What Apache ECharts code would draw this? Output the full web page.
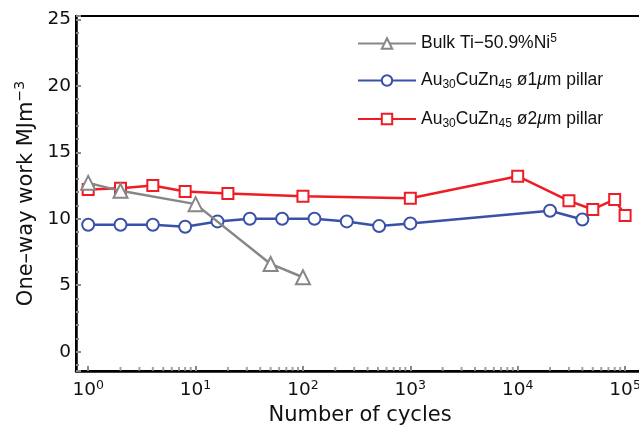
<!DOCTYPE html>
<html>
<head>
<meta charset="utf-8">
<script src="https://cdn.jsdelivr.net/npm/echarts@6/dist/echarts.min.js"></script>
<style>
  html, body { margin: 0; padding: 0; background: #fff; }
  #chart { width: 639px; height: 427px; }
</style>
</head>
<body>
<div id="chart"></div>
<script>
// Bulk Ti-50.9%Ni (triangles)
const bulkCycles = [1, 2, 10, 50, 100]
const bulkWork = [12.7, 12.1, 11.1, 6.6, 5.6]

// Au30CuZn45 1um pillar (circles)
const pillar1Cycles = [1, 2, 4, 8, 16, 32, 64, 128, 256, 512, 1000, 20000, 40000]
const pillar1Work = [9.55, 9.55, 9.55, 9.4, 9.8, 10.0, 10.0, 10.0, 9.8, 9.45, 9.65, 10.6, 9.95]

// Au30CuZn45 2um pillar (squares)
const pillar2Cycles = [1, 2, 4, 8, 20, 100, 1000, 10000, 30000, 50000, 80000, 100000]
const pillar2Work = [12.2, 12.3, 12.5, 12.05, 11.9, 11.7, 11.55, 13.2, 11.35, 10.7, 11.45, 10.25]

// minor ticks on the log axis (2..9 in each decade)
const decades = [1, 10, 100, 1000, 10000]
const minorSteps = [2, 3, 4, 5, 6, 7, 8, 9]

const xMin = 0.77
const xMax = 150000
const yMin = -1.45
const yMax = 25.25

const FONT = 'Liberation Sans'
const AXIS_FONT = 'DejaVu Sans'

function pairs(xs, ys) {
  return xs.map((x, i) => [x, ys[i]])
}

const minorTicks = []
decades.forEach(d => minorSteps.forEach(s => minorTicks.push([d * s, yMin])))

const chart = echarts.init(document.getElementById('chart'))

const option = {
  animation: false,
  textStyle: { fontFamily: FONT },
  grid: {
    left: 76,
    top: 16,
    bottom: 56,
    right: -5,
    outerBoundsMode: 'none',
    containLabel: false,
    show: true,
    borderColor: '#000',
    borderWidth: 2,
  },
  legend: {
    orient: 'vertical',
    left: 352,
    top: 28,
    itemGap: 19,
    itemWidth: 58,
    itemHeight: 13,
    data: ['bulk', 'p1', 'p2'],
    formatter: name => {
      if (name === 'bulk') return '{t|Bulk Ti−50.9%Ni}{sup|5}'
      if (name === 'p1') return '{t|Au}{sub|30}{t|CuZn}{sub|45}{t| ø1}{it|μ}{t|m pillar}'
      return '{t|Au}{sub|30}{t|CuZn}{sub|45}{t| ø2}{it|μ}{t|m pillar}'
    },
    textStyle: {
      color: '#111',
      rich: {
        t: { fontSize: 17.5, fontFamily: FONT, color: '#111' },
        it: { fontSize: 17.5, fontFamily: FONT, fontStyle: 'italic', color: '#111' },
        sup: { fontSize: 12, fontFamily: FONT, color: '#111', padding: [0, 0, 9, 0] },
        sub: { fontSize: 12, fontFamily: FONT, color: '#111', padding: [9, 0, 0, 0] },
      },
    },
  },
  xAxis: {
    type: 'log',
    logBase: 10,
    min: xMin,
    max: xMax,
    name: 'Number of cycles',
    nameLocation: 'middle',
    nameGap: 33,
    nameTextStyle: { fontSize: 21, color: '#111', fontFamily: AXIS_FONT },
    axisLine: { onZero: false, lineStyle: { color: '#000', width: 2.5 } },
    axisTick: { inside: true, length: 5, lineStyle: { color: '#888', width: 2 } },
    splitLine: { show: false },
    axisLabel: {
      margin: 8,
      showMinLabel: false,
      formatter: v => {
        const e = Math.log10(v)
        if (Math.abs(e - Math.round(e)) > 1e-6) return ''
        return '{b|10}{s|' + Math.round(e) + '}'
      },
      rich: {
        b: { fontSize: 18.5, color: '#111', fontFamily: AXIS_FONT },
        s: { fontSize: 12.5, color: '#111', fontFamily: AXIS_FONT, padding: [0, 0, 10, 0] },
      },
    },
  },
  yAxis: {
    type: 'value',
    min: yMin,
    max: yMax,
    name: '{t|One–way work MJm}{sup|−3}',
    nameLocation: 'middle',
    nameGap: 34,
    nameRotate: 90,
    nameTextStyle: {
      rich: {
        t: { fontSize: 21, color: '#111', fontFamily: AXIS_FONT },
        sup: { fontSize: 14, color: '#111', fontFamily: AXIS_FONT, padding: [0, 0, 12, 0] },
      },
    },
    axisLine: { show: true, onZero: false, lineStyle: { color: '#000', width: 2.5 } },
    axisTick: { inside: true, length: 5, lineStyle: { color: '#888', width: 2 } },
    minorTick: { show: true, splitNumber: 5, length: 3, lineStyle: { color: '#888', width: 2 } },
    splitLine: { show: false },
    axisLabel: {
      margin: 5,
      fontSize: 18.5,
      fontFamily: AXIS_FONT,
      color: '#111',
      formatter: v => (Math.abs(v % 5) < 1e-6 ? String(v) : ''),
    },
  },
  series: [
    {
      name: 'p2',
      type: 'line',
      z: 2,
      data: pairs(pillar2Cycles, pillar2Work),
      symbol: 'emptyRect',
      symbolSize: 11,
      lineStyle: { color: '#ee1c24', width: 2.5 },
      itemStyle: { color: '#ee1c24', borderWidth: 2.5 },
    },
    {
      name: 'p1',
      type: 'line',
      z: 3,
      data: pairs(pillar1Cycles, pillar1Work),
      symbol: 'emptyCircle',
      symbolSize: 12,
      lineStyle: { color: '#3a51a8', width: 2.5 },
      itemStyle: { color: '#3a51a8', borderWidth: 2.5 },
    },
    {
      name: 'bulk',
      type: 'line',
      z: 4,
      data: pairs(bulkCycles, bulkWork),
      symbol: 'emptyTriangle',
      symbolSize: 14,
      lineStyle: { color: '#878787', width: 2.5 },
      itemStyle: { color: '#878787', borderWidth: 2.5 },
    },
    {
      name: 'minor',
      type: 'scatter',
      silent: true,
      clip: false,
      z: 1,
      data: minorTicks,
      symbol: 'rect',
      symbolSize: [2, 4],
      symbolOffset: [0, -2],
      itemStyle: { color: '#888' },
    },
  ],
}

chart.setOption(option)
</script>
</body>
</html>
